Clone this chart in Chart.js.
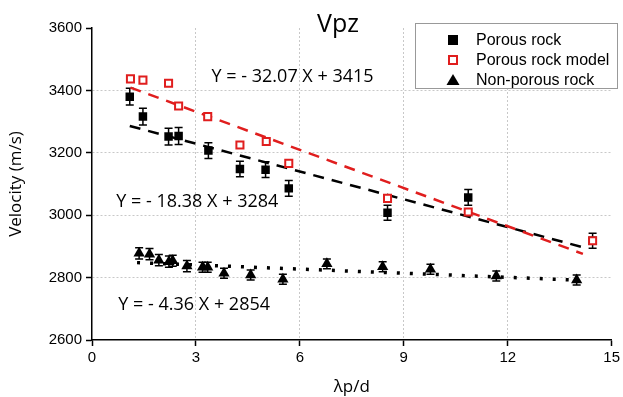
<!DOCTYPE html>
<html>
<head>
<meta charset="utf-8">
<script src="https://cdn.jsdelivr.net/npm/chart.js@4"></script>
<style>
  html, body { margin: 0; padding: 0; background: #fff; }
  #wrap { width: 623px; height: 397px; }
</style>
</head>
<body>
<div id="wrap"><canvas id="c" width="623" height="397"></canvas></div>
<script>
// porous rock (measured)
var porousX = [1.09, 1.47, 2.21, 2.50, 3.36, 4.27, 5.01, 5.68, 8.53, 10.86, 14.45];
var porousY = [3380, 3316, 3252, 3254, 3207, 3148, 3146, 3086, 3008, 3057, 2918];
var porousErr = [27, 27, 27, 27, 25, 25, 25, 25, 24, 25, 24];

// porous rock model
var modelX = [1.11, 1.47, 2.21, 2.50, 3.34, 4.27, 5.03, 5.68, 8.53, 10.86, 14.45];
var modelY = [3437, 3433, 3423, 3350, 3316, 3225, 3236, 3166, 3054, 3010, 2918];

// non-porous rock
var solidX = [1.36, 1.66, 1.93, 2.22, 2.33, 2.74, 3.19, 3.34, 3.81, 4.58, 5.51, 6.78, 8.39, 9.77, 11.67, 13.99];
var solidY = [2878, 2875, 2856, 2851, 2854, 2837, 2833, 2833, 2814, 2808, 2795, 2844, 2835, 2827, 2805, 2792];
var solidErr = [18, 18, 18, 18, 18, 18, 16, 16, 16, 16, 16, 16, 16, 16, 16, 16];

// fitted lines (end points as drawn)
var fitModelX = [1.11, 14.17];
var fitModelY = [3409, 2876];
var fitPorousX = [1.09, 14.28];
var fitPorousY = [3286, 2894];
var fitSolidX = [1.30, 14.0];
var fitSolidY = [2848, 2792];

var xTicks = [0, 3, 6, 9, 12, 15];
var yTicks = [2600, 2800, 3000, 3200, 3400, 3600];

var legendNames = ['Porous rock', 'Porous rock model', 'Non-porous rock'];
var equations = [
  { text: 'Y = - 32.07 X + 3415', x: 5.79, y: 3443 },
  { text: 'Y = - 18.38 X + 3284', x: 3.04, y: 3042 },
  { text: 'Y = - 4.36 X + 2854', x: 2.95, y: 2712 }
];

function pts(xs, ys) {
  return xs.map(function (x, i) { return { x: x, y: ys[i] }; });
}

var RED = '#e01e1e';
var GRID = '#c8c8c8';
var sideFont = '"Open Sans", "Noto Sans", sans-serif';
var tickFont = '"Liberation Sans", Arial, sans-serif';

// error bars, drawn before the markers
var errorBars = {
  id: 'errorBars',
  beforeDatasetsDraw: function (chart) {
    var ctx = chart.ctx;
    var xs = chart.scales.x, ys = chart.scales.y;
    var sets = [[porousX, porousY, porousErr], [solidX, solidY, solidErr]];
    ctx.save();
    ctx.strokeStyle = '#000';
    ctx.lineWidth = 1.5;
    sets.forEach(function (s) {
      s[0].forEach(function (x, i) {
        var px = xs.getPixelForValue(x);
        var top = ys.getPixelForValue(s[1][i] + s[2][i]);
        var bot = ys.getPixelForValue(s[1][i] - s[2][i]);
        ctx.beginPath();
        ctx.moveTo(px, top); ctx.lineTo(px, bot);
        ctx.moveTo(px - 4, top); ctx.lineTo(px + 4, top);
        ctx.moveTo(px - 4, bot); ctx.lineTo(px + 4, bot);
        ctx.stroke();
      });
    });
    ctx.restore();
  }
};

// title, equations and legend box
var overlay = {
  id: 'overlay',
  afterDraw: function (chart) {
    var ctx = chart.ctx;
    var xs = chart.scales.x, ys = chart.scales.y;
    ctx.save();
    ctx.fillStyle = '#000';
    ctx.textBaseline = 'middle';
    ctx.textAlign = 'center';
    ctx.font = '25px ' + sideFont;
    ctx.fillText('Vpz', 338, 25);

    ctx.font = '18px ' + sideFont;
    equations.forEach(function (e) {
      ctx.fillText(e.text, xs.getPixelForValue(e.x), ys.getPixelForValue(e.y));
    });

    // legend
    ctx.fillStyle = '#fff';
    ctx.fillRect(415, 23, 203, 65);
    ctx.strokeStyle = '#999';
    ctx.lineWidth = 1;
    ctx.strokeRect(415.5, 23.5, 202, 65);
    ctx.textAlign = 'left';
    ctx.font = '16px ' + tickFont;
    var rows = [40, 60, 80];
    var mx = 453;
    ctx.fillStyle = '#000';
    ctx.fillRect(mx - 5, rows[0] - 5, 10, 10);
    ctx.strokeStyle = RED;
    ctx.lineWidth = 2;
    ctx.strokeRect(mx - 4, rows[1] - 4, 8, 8);
    ctx.beginPath();
    ctx.moveTo(mx, rows[2] - 6);
    ctx.lineTo(mx + 6.5, rows[2] + 5);
    ctx.lineTo(mx - 6.5, rows[2] + 5);
    ctx.closePath();
    ctx.fill();
    legendNames.forEach(function (n, i) {
      ctx.fillText(n, 476, rows[i] + 1);
    });
    ctx.restore();
  }
};

function plain(v) { return String(v); }

var ctx = document.getElementById('c').getContext('2d');
new Chart(ctx, {
  type: 'scatter',
  data: {
    datasets: [
      {
        label: 'Porous rock model',
        data: pts(modelX, modelY),
        pointStyle: 'rect',
        pointRadius: 5,
        backgroundColor: '#fff',
        borderColor: RED,
        borderWidth: 2,
        order: 1
      },
      {
        label: 'Porous rock',
        data: pts(porousX, porousY),
        pointStyle: 'rect',
        pointRadius: 6,
        backgroundColor: '#000',
        borderColor: '#000',
        borderWidth: 0,
        order: 2
      },
      {
        label: 'Non-porous rock',
        data: pts(solidX, solidY),
        pointStyle: 'triangle',
        pointRadius: 6.5,
        backgroundColor: '#000',
        borderColor: '#000',
        borderWidth: 0,
        order: 3
      },
      {
        label: 'fit model',
        data: pts(fitModelX, fitModelY),
        showLine: true,
        pointRadius: 0,
        borderColor: RED,
        borderWidth: 2.5,
        borderDash: [11, 8],
        order: 4
      },
      {
        label: 'fit porous',
        data: pts(fitPorousX, fitPorousY),
        showLine: true,
        pointRadius: 0,
        borderColor: '#000',
        borderWidth: 2.5,
        borderDash: [11, 8],
        order: 5
      },
      {
        label: 'fit non-porous',
        data: pts(fitSolidX, fitSolidY),
        showLine: true,
        pointRadius: 0,
        borderColor: '#000',
        borderWidth: 3.5,
        borderDash: [3, 10],
        order: 6
      }
    ]
  },
  options: {
    responsive: false,
    animation: false,
    layout: { padding: { top: 28, right: 8, left: 0, bottom: 0 } },
    plugins: {
      legend: { display: false },
      tooltip: { enabled: false }
    },
    scales: {
      x: {
        type: 'linear',
        min: 0, max: 15,
        afterBuildTicks: function (s) { s.ticks = xTicks.map(function (v) { return { value: v }; }); },
        afterFit: function (s) { s.height = 57; },
        ticks: { color: '#000', font: { family: tickFont, size: 15 }, padding: 3, callback: plain },
        grid: {
          color: function (c) { return (c.tick && (c.tick.value === 0 || c.tick.value === 15)) ? 'rgba(0,0,0,0)' : GRID; },
          tickColor: '#000',
          tickLength: 6,
          tickWidth: 1.5,
          lineWidth: 1
        },
        border: { color: '#000', width: 1.5, dash: [2, 2] },
        title: { display: true, text: 'λp/d', color: '#000', font: { family: sideFont, size: 17 }, padding: { top: 0, bottom: 0 } }
      },
      y: {
        type: 'linear',
        min: 2600, max: 3600,
        afterBuildTicks: function (s) { s.ticks = yTicks.map(function (v) { return { value: v }; }); },
        afterFit: function (s) { s.width = 92; },
        ticks: { color: '#000', font: { family: tickFont, size: 15 }, padding: 4, callback: plain },
        grid: {
          color: function (c) { return (c.tick && (c.tick.value === 2600 || c.tick.value === 3600)) ? 'rgba(0,0,0,0)' : GRID; },
          tickColor: '#000',
          tickLength: 6,
          tickWidth: 1.5,
          lineWidth: 1
        },
        border: { color: '#000', width: 1.5, dash: [2, 2] },
        title: { display: true, text: 'Velocity (m/s)', color: '#000', font: { family: sideFont, size: 17 }, padding: { top: 6, bottom: 0 } }
      }
    }
  },
  plugins: [errorBars, overlay]
});
</script>
</body>
</html>
